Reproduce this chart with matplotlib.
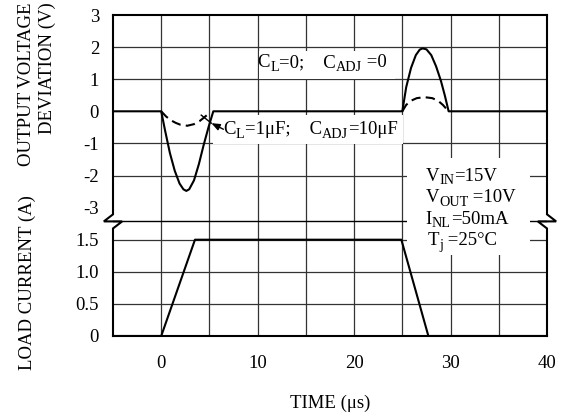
import matplotlib
matplotlib.use("Agg")
import matplotlib.pyplot as plt
from matplotlib.patches import Rectangle
from matplotlib.transforms import offset_copy

plt.rcParams['font.family'] = ['Liberation Serif', 'DejaVu Serif']

# ---------------- data ----------------
# Output voltage deviation, C_L = 0, C_ADJ = 0 (solid)
t_v0 = [-5, 0, 0.4, 0.9, 1.4, 1.9, 2.3, 2.6, 2.9, 3.4, 3.9, 4.4, 4.9, 5.4,
        25.0, 25.4, 25.9, 26.4, 26.8, 27.1, 27.5, 28.0, 28.5, 29.0, 29.4, 29.8, 40]
v_v0 = [0, 0, -0.6, -1.3, -1.85, -2.25, -2.43, -2.48, -2.43, -2.15, -1.65, -1.05, -0.5, 0,
        0, 0.75, 1.35, 1.75, 1.92, 1.96, 1.93, 1.75, 1.4, 0.95, 0.5, 0, 0]
# Output voltage deviation, C_L = 1uF, C_ADJ = 10uF (dashed)
t_v1 = [0, 0.5, 1.0, 1.5, 2.0, 2.7, 3.4, 4.0, 4.5, 5.0]
v_v1 = [0, -0.16, -0.28, -0.36, -0.42, -0.45, -0.4, -0.3, -0.18, -0.05]
t_v1b = [25.0, 25.4, 25.9, 26.5, 27.3, 28.1, 28.7, 29.2, 29.8]
v_v1b = [0, 0.2, 0.33, 0.41, 0.44, 0.41, 0.33, 0.2, 0]
# Load current
t_i = [-5, 0, 3.5, 24.9, 27.7, 40]
i_i = [0, 0, 1.5, 1.5, 0, 0]

v_ticks = [-3, -2, -1, 0, 1, 2, 3]
i_ticks = [0, 0.5, 1.0, 1.5]
i_tick_labels = ['0', '0.5', '1.0', '1.5']
x_ticks = [0, 10, 20, 30, 40]
params = [[('V', 0), ('IN', 1), ('=15V', 0)],
          [('V', 0), ('OUT', 1), (' =10V', 0)],
          [('I', 0), ('NL', 1), ('=50mA', 0)],
          [('T', 0), ('j', 1), (' =25°C', 0)]]
label0 = [('C', 0), ('L', 1), ('=0;    C', 0), ('ADJ', 1), (' =0', 0)]
label1 = [('C', 0), ('L', 1), ('=1μF;    C', 0), ('ADJ', 1), ('=10μF', 0)]

# mapping of both quantities into one stacked axis
def vy(v):
    return 7 + v

def iy(i):
    return 2 * i

W, H = 574, 416
fig = plt.figure(figsize=(W / 100, H / 100), dpi=100)
ax = fig.add_axes([113 / W, 80 / H, 434 / W, 321 / H])
ax.set_xlim(-5, 40)
ax.set_ylim(0, 10)
for s in ax.spines.values():
    s.set_visible(False)

FS = 13.5
gc = '#333333'
glw = 0.9
ybrk = 3.57

renderer = fig.canvas.get_renderer()

def rich(x, y, parts, fs=FS, subscale=0.75, subdy=-3.5):
    dx = 0.0
    for s, sub in parts:
        tr = offset_copy(ax.transData, fig=fig, x=dx, y=(subdy if sub else 0), units='dots')
        t = ax.text(x, y, s, fontsize=fs * (subscale if sub else 1.0), transform=tr,
                    ha='left', va='baseline', zorder=3)
        dx += t.get_window_extent(renderer=renderer).width

# grid
for x in range(0, 40, 5):
    ax.plot([x, x], [0, 10], color=gc, lw=glw, zorder=1)
for yy in [iy(0.5), iy(1.0), iy(1.5), vy(-2), vy(-1), vy(1), vy(2)]:
    ax.plot([-5, 40], [yy, yy], color=gc, lw=glw, zorder=1)
ax.plot([-5, 40], [ybrk, ybrk], color='black', lw=1.0, zorder=1)

# frame with break marks
dx, dy = 0.95, 0.22
flw = 1.5
ax.plot([-5, 40], [10, 10], color='black', lw=flw, zorder=5, clip_on=False)
ax.plot([-5, 40], [0, 0], color='black', lw=flw, zorder=5, clip_on=False)
ax.plot([-5, -5, -5 - dx, -5 + dx, -5, -5],
        [10, ybrk + dy, ybrk, ybrk, ybrk - dy, 0],
        color='black', lw=flw, zorder=5, clip_on=False, solid_joinstyle='miter')
ax.plot([40, 40, 40 + dx, 40 - dx, 40, 40],
        [10, ybrk + dy, ybrk, ybrk, ybrk - dy, 0],
        color='black', lw=flw, zorder=5, clip_on=False, solid_joinstyle='miter')

# white label boxes
ax.add_patch(Rectangle((10.1, 8.02), 14.1, 0.86, facecolor='white', edgecolor='none', zorder=2))
ax.add_patch(Rectangle((5.4, 5.97), 19.7, 0.93, facecolor='white', edgecolor='none', zorder=2))
ax.add_patch(Rectangle((25.5, 2.52), 12.7, 3.04, facecolor='white', edgecolor='none', zorder=2))

# curves
ax.plot(t_v0, [vy(v) for v in v_v0], color='black', lw=1.5, zorder=4)
ax.plot(t_v1, [vy(v) for v in v_v1], color='black', lw=1.5, ls=(0, (4.5, 2.5)), zorder=4)
ax.plot(t_v1b, [vy(v) for v in v_v1b], color='black', lw=1.5, ls=(0, (4.5, 2.5)), zorder=4)
ax.plot(t_i, [iy(i) for i in i_i], color='black', lw=1.5, zorder=4)

# annotations
rich(10.0, vy(1.38), label0)
rich(6.45, vy(-0.72), label1)
ax.annotate('', xy=(5.2, vy(-0.37)), xytext=(6.45, vy(-0.56)),
            arrowprops=dict(arrowstyle='-|>,head_length=0.5,head_width=0.2',
                            color='black', lw=1.0, shrinkA=0, shrinkB=0), zorder=4)
ax.plot([5.2, 4.15], [vy(-0.37), vy(-0.12)], color='black', lw=1.0, zorder=4)

for k, p in enumerate(params):
    rich(27.4 if k != 3 else 27.6, [4.84, 4.16, 3.50, 2.82][k], p)

# ticks
yt = [iy(i) for i in i_ticks] + [vy(v) for v in v_ticks]
ylab = i_tick_labels + [str(v) for v in v_ticks]
ax.set_yticks(yt)
ax.set_yticklabels(ylab)
ax.set_xticks(x_ticks)
ax.set_xticklabels([str(x) for x in x_ticks])
ax.tick_params(axis='y', length=0, pad=10, labelsize=FS)
ax.tick_params(axis='x', length=0, pad=14, labelsize=FS)

# axis labels
ax.set_xlabel('TIME (μs)', fontsize=FS, labelpad=16)
fig.text(27 / W, 1 - 2 / H, 'OUTPUT VOLTAGE', rotation=90, fontsize=FS, ha='center', va='top')
fig.text(47 / W, 1 - 2 / H, 'DEVIATION (V)', rotation=90, fontsize=FS, ha='center', va='top')
fig.text(27 / W, 1 - 283 / H, 'LOAD CURRENT (A)', rotation=90, fontsize=FS, ha='center', va='center')

fig.savefig('out.png', dpi=100)
